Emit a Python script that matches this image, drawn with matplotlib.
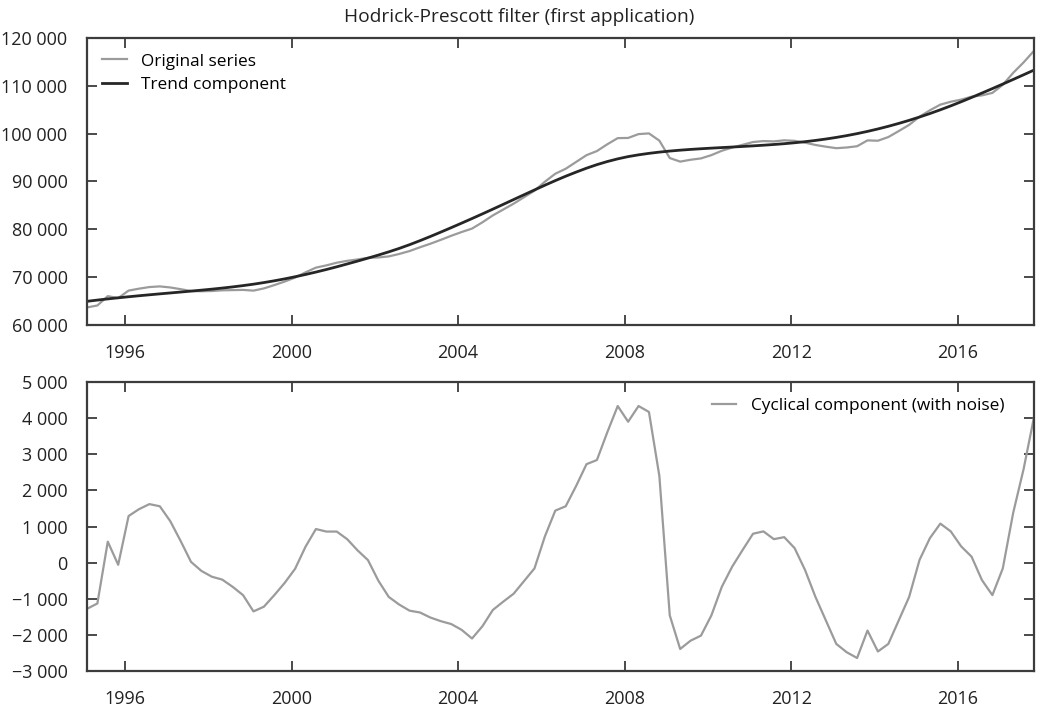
import numpy as np
import matplotlib
matplotlib.use("Agg")
import matplotlib.pyplot as plt
from matplotlib.ticker import FuncFormatter

plt.rcParams['font.family'] = ['Open Sans', 'DejaVu Sans']

# ---- data (quarterly) ----
start_year = 1995 + 1 / 12
quarter_step = 0.25

original = [63670, 64080, 66035, 65625, 67195, 67595, 67935, 68070, 67850, 67490,
            67105, 67055, 67105, 67250, 67295, 67335, 67185, 67650, 68340, 69085,
            69915, 71000, 71995, 72460, 73025, 73410, 73700, 74050, 74120, 74340,
            74850, 75460, 76250, 76990, 77800, 78650, 79435, 80155, 81470, 82910,
            84140, 85365, 86720, 88070, 89945, 91620, 92660, 94080, 95505, 96360,
            97780, 99065, 99100, 99905, 100050, 98540, 94900, 94155, 94545, 94825,
            95510, 96418, 97093, 97671, 98246, 98446, 98381, 98606, 98496, 98116,
            97631, 97276, 96961, 97106, 97366, 98591, 98521, 99286, 100536, 101831,
            103546, 104886, 106066, 106671, 107116, 107726, 108001, 108516, 110206, 112711,
            114896, 117316]

trend = [64950, 65210, 65455, 65685, 65905, 66115, 66315, 66510, 66700, 66890,
         67085, 67285, 67495, 67720, 67965, 68235, 68535, 68870, 69240, 69645,
         70085, 70560, 71065, 71600, 72165, 72760, 73360, 73980, 74620, 75290,
         76010, 76790, 77630, 78510, 79420, 80350, 81295, 82255, 83230, 84220,
         85220, 86225, 87230, 88230, 89220, 90180, 91100, 91960, 92780, 93520,
         94170, 94730, 95200, 95570, 95880, 96140, 96360, 96545, 96705, 96845,
         96970, 97088, 97203, 97321, 97446, 97581, 97731, 97901, 98096, 98321,
         98581, 98876, 99211, 99586, 100006, 100471, 100981, 101536, 102136, 102781,
         103471, 104206, 104986, 105806, 106666, 107561, 108486, 109416, 110366, 111331,
         112306, 113286]

cycle = [-1280, -1130, 580, -60, 1290, 1480, 1620, 1560, 1150, 600,
         20, -230, -390, -470, -670, -900, -1350, -1220, -900, -560,
         -170, 440, 930, 860, 860, 650, 340, 70, -500, -950,
         -1160, -1330, -1380, -1520, -1620, -1700, -1860, -2100, -1760, -1310,
         -1080, -860, -510, -160, 725, 1440, 1560, 2120, 2725, 2840,
         3610, 4335, 3900, 4335, 4170, 2400, -1460, -2390, -2160, -2020,
         -1460, -670, -110, 350, 800, 865, 650, 705, 400, -205,
         -950, -1600, -2250, -2480, -2640, -1880, -2460, -2250, -1600, -950,
         75, 680, 1080, 865, 450, 165, -485, -900, -160, 1380,
         2590, 4030]

year_ticks = [1996, 2000, 2004, 2008, 2012, 2016]
top_yticks = [60000, 70000, 80000, 90000, 100000, 110000, 120000]
bot_yticks = [-3000, -2000, -1000, 0, 1000, 2000, 3000, 4000, 5000]

title = "Hodrick-Prescott filter (first application)"

x = start_year + quarter_step * np.arange(len(cycle))

GREY = "#9b9b9b"
DARK = "#262626"
FRAME = "#3c3c3c"
FS = 13
LEG_FS = 12.4
TITLE_FS = 13.8


def fmt(v, pos=None):
    s = f"{abs(int(round(v))):,}".replace(",", " ")
    return ("\u2212" + s) if v < 0 else s


fig = plt.figure(figsize=(10.39, 7.07), dpi=100)
ax1 = fig.add_axes([0.0837, 0.5403, 0.9115, 0.406])
ax2 = fig.add_axes([0.0837, 0.0509, 0.9115, 0.4088])

ax1.plot(x, original, color=GREY, lw=1.6, label="Original series")
ax1.plot(x, trend, color=DARK, lw=2.0, label="Trend component")
ax2.plot(x, cycle, color=GREY, lw=1.6, label="Cyclical component (with noise)")

ax1.set_ylim(60000, 120000)
ax1.set_yticks(top_yticks)
ax2.set_ylim(-3000, 5000)
ax2.set_yticks(bot_yticks)

for ax in (ax1, ax2):
    ax.set_xlim(x[0], x[-1])
    ax.set_xticks(year_ticks)
    ax.set_xticklabels([str(t) for t in year_ticks])
    ax.yaxis.set_major_formatter(FuncFormatter(fmt))
    ax.tick_params(direction="in", length=7, width=1.3, color=FRAME,
                   top=True, right=True, labelsize=FS, pad=14, labelcolor="#222222")
    for sp in ax.spines.values():
        sp.set_linewidth(1.6)
        sp.set_color(FRAME)

leg1 = ax1.legend(loc="upper left", bbox_to_anchor=(0.0, 1.0), frameon=False,
                  fontsize=LEG_FS, handlelength=1.4, handletextpad=0.85,
                  labelspacing=0.42, borderaxespad=0.5)
leg2 = ax2.legend(loc="upper right", bbox_to_anchor=(0.985, 1.0), frameon=False,
                  fontsize=LEG_FS, handlelength=1.4, handletextpad=0.85,
                  borderaxespad=0.5)

fig.text(0.5, 0.976, title, ha="center", va="center", fontsize=TITLE_FS, color="#222222")

fig.savefig("out.png", dpi=100)
